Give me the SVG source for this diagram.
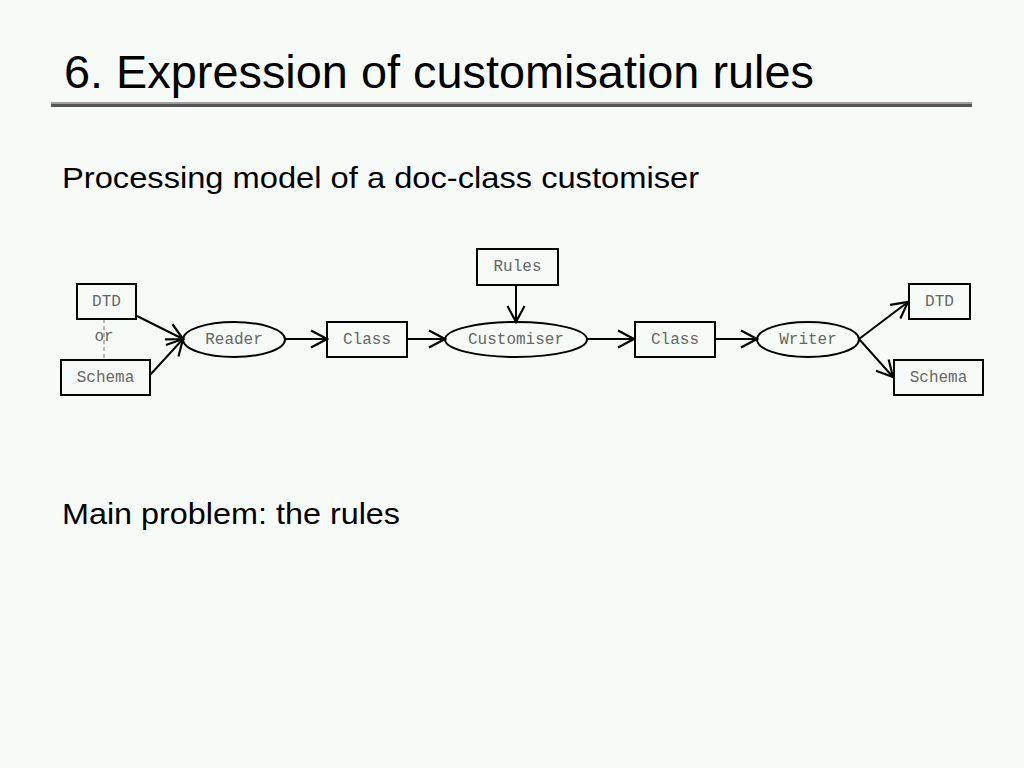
<svg xmlns="http://www.w3.org/2000/svg" width="1024" height="768" viewBox="0 0 1024 768">
<defs>
<style>
.h{font-family:"Liberation Sans",Arial,sans-serif;fill:#000}
.box{fill:none;stroke:#000;stroke-width:2}
.lbl{font-family:"Liberation Mono","Courier New",monospace;font-size:16px;fill:#666;text-anchor:middle}
.edge{fill:none;stroke:#000;stroke-width:2}
.dash{fill:none;stroke:#777;stroke-width:1;stroke-dasharray:4,3}
</style>
<marker id="arr" viewBox="0 0 20 20" refX="18" refY="10" markerWidth="20" markerHeight="20" markerUnits="userSpaceOnUse" orient="auto">
<path d="M2,1.5 L18,10 L2,18.5" fill="none" stroke="#000" stroke-width="2.2"/>
</marker>
</defs>
<rect width="1024" height="768" fill="#f7fbf7"/>
<text class="h" x="64" y="88" font-size="46" textLength="750" lengthAdjust="spacingAndGlyphs">6. Expression of customisation rules</text>
<rect x="51" y="102" width="921" height="2" fill="#a0a0a0"/>
<rect x="51" y="104" width="921" height="3" fill="#555"/>
<text class="h" x="62" y="188" font-size="30" textLength="637" lengthAdjust="spacingAndGlyphs">Processing model of a doc-class customiser</text>
<text class="h" x="62" y="524" font-size="30" textLength="338" lengthAdjust="spacingAndGlyphs">Main problem: the rules</text>

<g id="connectors">
<line class="dash" x1="104" y1="319" x2="104" y2="359"/>
<line class="edge" x1="137" y1="316" x2="183" y2="339" marker-end="url(#arr)"/>
<line class="edge" x1="150" y1="375" x2="183" y2="339" marker-end="url(#arr)"/>
<line class="edge" x1="285" y1="339" x2="327" y2="339" marker-end="url(#arr)"/>
<line class="edge" x1="407" y1="339" x2="445" y2="339" marker-end="url(#arr)"/>
<line class="edge" x1="516" y1="285" x2="516" y2="322" marker-end="url(#arr)"/>
<line class="edge" x1="587" y1="339" x2="634" y2="339" marker-end="url(#arr)"/>
<line class="edge" x1="716" y1="339" x2="757" y2="339" marker-end="url(#arr)"/>
<line class="edge" x1="859" y1="339" x2="908" y2="302" marker-end="url(#arr)"/>
<line class="edge" x1="859" y1="339" x2="893" y2="377" marker-end="url(#arr)"/>
</g>
<text class="lbl" x="104" y="341">or</text>

<g id="dtd-in"><rect class="box" x="77" y="284" width="59" height="35"/><text class="lbl" x="106.5" y="306">DTD</text></g>
<g id="schema-in"><rect class="box" x="61" y="360" width="89" height="35"/><text class="lbl" x="105.5" y="382">Schema</text></g>
<g id="reader"><ellipse class="box" cx="234" cy="339.5" rx="51" ry="17.5"/><text class="lbl" x="234" y="344">Reader</text></g>
<g id="class1"><rect class="box" x="327" y="322" width="80" height="35"/><text class="lbl" x="367" y="344">Class</text></g>
<g id="rules"><rect class="box" x="477" y="249" width="81" height="36"/><text class="lbl" x="517.5" y="271">Rules</text></g>
<g id="customiser"><ellipse class="box" cx="516" cy="339.5" rx="71" ry="17.5"/><text class="lbl" x="516" y="344">Customiser</text></g>
<g id="class2"><rect class="box" x="635" y="322" width="80" height="35"/><text class="lbl" x="675" y="344">Class</text></g>
<g id="writer"><ellipse class="box" cx="808" cy="339.5" rx="51" ry="17.5"/><text class="lbl" x="808" y="344">Writer</text></g>
<g id="dtd-out"><rect class="box" x="909" y="284" width="61" height="35"/><text class="lbl" x="939.5" y="306">DTD</text></g>
<g id="schema-out"><rect class="box" x="894" y="360" width="89" height="35"/><text class="lbl" x="938.5" y="382">Schema</text></g>
</svg>
